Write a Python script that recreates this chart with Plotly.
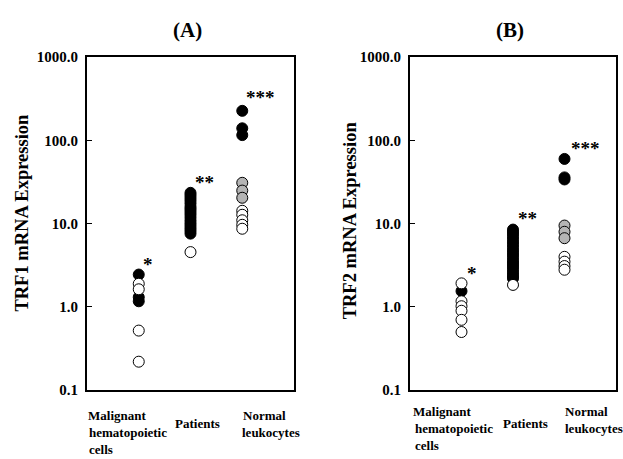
import math
import plotly.graph_objects as go

# ---- data ----
categories = ["Malignant hematopoietic cells", "Patients", "Normal leukocytes"]
cat_pos = [1, 2, 3]
tick_vals = [0.1, 1, 10, 100, 1000]
tick_text = ["0.1", "1.0", "10.0", "100.0", "1000.0"]

# Panel A: TRF1
a_mal_filled = [2.45, 1.31, 1.17]
a_mal_open = [1.9, 1.63, 0.52, 0.22]
a_pat_filled = [23.5, 22.0, 20.5, 19.0, 17.5, 16.0, 15.0, 14.0, 13.0, 12.0, 11.0,
                10.2, 9.5, 8.8, 8.2, 7.6]
a_pat_open = [4.56]
a_nor_filled = [227, 140, 116]
a_nor_gray = [31, 25, 20.5]
a_nor_open = [14.3, 12.8, 11.0, 9.7, 8.7]

# Panel B: TRF2
b_mal_filled = [1.55]
b_mal_open = [1.92, 1.17, 1.02, 0.9, 0.70, 0.50]
b_pat_filled = [8.5, 8.0, 7.5, 7.0, 6.5, 6.0, 5.6, 5.2, 4.8, 4.5, 4.2, 3.9, 3.6,
                3.4, 3.2, 3.0, 2.8, 2.6, 2.45, 2.3, 2.2]
b_pat_open = [1.84]
b_nor_filled = [60, 36, 34]
b_nor_gray = [9.5, 8.0, 6.7]
b_nor_open = [4.0, 3.5, 3.1, 2.8]

stars = ["*", "**", "***"]
a_star_x = [1.18, 2.28, 3.36]
a_star_y = [3.2, 31.6, 325]
b_star_x = [1.2, 2.29, 3.4]
b_star_y = [2.5, 11.7, 80]

SERIF = "Liberation Serif"
fig = go.Figure()

def add_group(xval, vals, fill, xaxis, yaxis):
    fig.add_trace(go.Scatter(
        x=[xval] * len(vals), y=vals, mode="markers",
        marker=dict(size=11, color=fill, line=dict(color="black", width=1)),
        xaxis=xaxis, yaxis=yaxis, showlegend=False, hoverinfo="y"))

panels = [
    ("x", "y", [(a_mal_filled, a_mal_open, []), (a_pat_filled, a_pat_open, []),
                (a_nor_filled, a_nor_open, a_nor_gray)]),
    ("x2", "y2", [(b_mal_filled, b_mal_open, []), (b_pat_filled, b_pat_open, []),
                  (b_nor_filled, b_nor_open, b_nor_gray)]),
]
for xa, ya, groups in panels:
    for pos, grp in zip(cat_pos, groups):
        filled, opn, gray = grp
        add_group(pos, filled, "black", xa, ya)
        if gray:
            add_group(pos, gray, "#b4b4b4", xa, ya)
        add_group(pos, opn, "white", xa, ya)

axis_common = dict(showline=True, mirror=True, linecolor="black", linewidth=2,
                   showgrid=False, zeroline=False)
yax = dict(axis_common, type="log", range=[-1, 3], tickvals=tick_vals, ticktext=tick_text,
           ticks="inside", ticklen=5, tickcolor="black", ticklabelstandoff=4,
           tickfont=dict(family=SERIF, size=15, color="black", weight="bold"))
xax = dict(axis_common, range=[0, 4], showticklabels=False, ticks="")

fig.update_layout(
    width=623, height=459, margin=dict(l=0, r=0, t=0, b=0),
    plot_bgcolor="white", paper_bgcolor="white",
    xaxis=dict(xax, domain=[87 / 623, 294 / 623], anchor="y"),
    yaxis=dict(yax, domain=[1 - 396 / 459, 1 - 51 / 459], anchor="x"),
    xaxis2=dict(xax, domain=[410 / 623, 616 / 623], anchor="y2"),
    yaxis2=dict(yax, domain=[1 - 396 / 459, 1 - 51 / 459], anchor="x2"),
)

W, H = 623, 459
def pt(x, y, text, size, xanchor="center", angle=0):
    fig.add_annotation(x=x / W, y=1 - y / H, xref="paper", yref="paper", text=text,
                       showarrow=False, xanchor=xanchor, yanchor="middle", textangle=angle,
                       font=dict(family=SERIF, size=size, color="black", weight="bold"))

# stars
for s, sx, sy in zip(stars, a_star_x, a_star_y):
    fig.add_annotation(x=sx, y=math.log10(sy), xref="x", yref="y", text=s,
                       showarrow=False, font=dict(family=SERIF, size=19, color="black", weight="bold"))
for s, sx, sy in zip(stars, b_star_x, b_star_y):
    fig.add_annotation(x=sx, y=math.log10(sy), xref="x2", yref="y2", text=s,
                       showarrow=False, font=dict(family=SERIF, size=19, color="black", weight="bold"))

# titles
pt(187, 23, "(A)", 21)
pt(510, 23, "(B)", 21)
pt(22, 212, "TRF1 mRNA Expression", 18.5, angle=-90)
pt(350, 220, "TRF2 mRNA Expression", 18.5, angle=-90)

# category labels
CS = 13
pt(86, 422, "Malignant", CS, "left")
pt(87, 440, "hematopoietic", CS, "left")
pt(87, 457, "cells", CS, "left")
pt(197, 430, "Patients", CS)
pt(241, 422, "Normal", CS, "left")
pt(240, 440, "leukocytes", CS, "left")

pt(411, 418, "Malignant", CS, "left")
pt(413, 436, "hematopoietic", CS, "left")
pt(413, 453, "cells", CS, "left")
pt(525, 430, "Patients", CS)
pt(563, 418, "Normal", CS, "left")
pt(563, 436, "leukocytes", CS, "left")

fig.write_html("out.html")
